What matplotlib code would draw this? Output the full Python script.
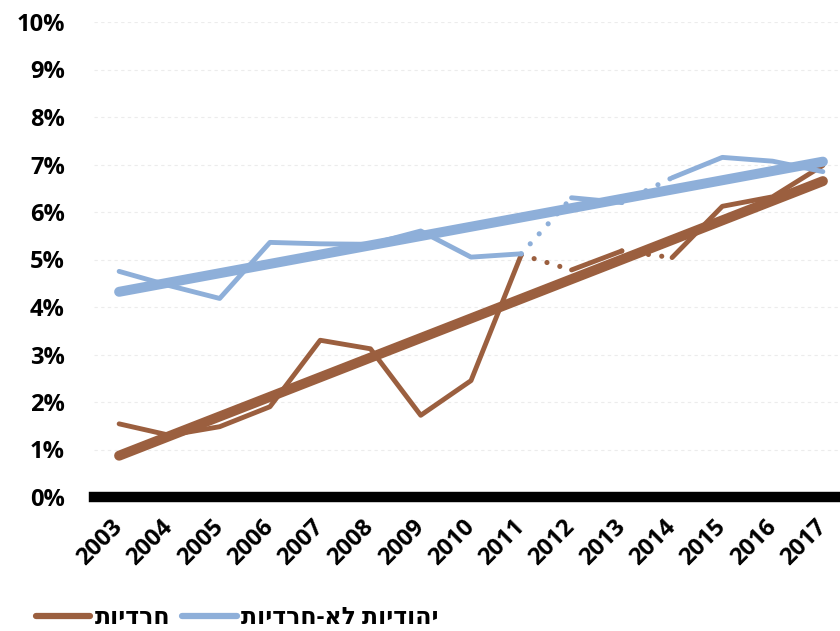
import matplotlib
matplotlib.use("Agg")
import matplotlib.pyplot as plt
from matplotlib.lines import Line2D

##*Data*##
years = [str(y) for y in range(2003, 2018)]
hared = [1.54, 1.30, 1.48, 1.90, 3.30, 3.12, 1.72, 2.45, 5.10, 4.78, 5.18, 5.04, 6.12, 6.32, 6.98]
non_hared = [4.75, 4.45, 4.18, 5.36, 5.33, 5.32, 5.60, 5.05, 5.12, 6.30, 6.20, 6.72, 7.15, 7.07, 6.85]
trend_hared = [0.87, 6.65]
trend_non_hared = [4.32, 7.06]
# solid parts of the series, dotted connectors between them
solid_parts = [(0, 8), (9, 10), (11, 14)]
dotted_parts = [(8, 9), (10, 11)]
label_hared = "חרדיות"
label_non_hared = "יהודיות לא-חרדיות"

brown = "#9B5F3F"
blue = "#8EAFD9"

plt.rcParams['font.family'] = ['Open Sans', 'DejaVu Sans']
plt.rcParams['font.weight'] = 'bold'

fig = plt.figure(figsize=(8.4, 6.31), dpi=100)
ax = fig.add_axes([94 / 840, 134 / 631, (848 - 94) / 840, 475 / 631])

x = list(range(len(years)))

def draw_series(vals, color):
    for a, b in solid_parts:
        ax.plot(x[a:b + 1], vals[a:b + 1], color=color, lw=3.5,
                solid_capstyle='round', solid_joinstyle='round', zorder=3)
    for a, b in dotted_parts:
        ax.plot(x[a:b + 1], vals[a:b + 1], color=color, lw=3.7,
                linestyle=(0, (0.01, 2.6)), dash_capstyle='round', zorder=3)

draw_series(hared, brown)
draw_series(non_hared, blue)

# linear trend lines
ax.plot([x[0], x[-1]], trend_hared, color=brown, lw=7.2, solid_capstyle='round', zorder=4)
ax.plot([x[0], x[-1]], trend_non_hared, color=blue, lw=7.2, solid_capstyle='round', zorder=4)

ax.set_xlim(-0.5, 14.5)
ax.set_ylim(0, 10)
for s in ax.spines.values():
    s.set_visible(False)
for v in range(1, 11):
    ax.axhline(v, color='#ececec', lw=0.8, ls=(0, (3, 3)), zorder=1)
ax.axhline(0, color='black', lw=7.5, clip_on=False, zorder=5)

ax.set_yticks(range(0, 11))
ax.set_yticklabels([f"{v}%" for v in range(0, 11)], fontsize=17, fontweight='bold')
ax.set_xticks(x)
ax.set_xticklabels(years, fontsize=17, fontweight='bold', rotation=45,
                   ha='right', va='center', rotation_mode='anchor')
ax.tick_params(axis='y', length=0, pad=21)
ax.tick_params(axis='x', length=0, pad=19)

handles = [Line2D([], [], color=brown, lw=4.5, solid_capstyle='round'),
           Line2D([], [], color=blue, lw=4.5, solid_capstyle='round')]
labels = [label_hared[::-1], label_non_hared[::-1]]
fig.legend(handles, labels, loc='center left', bbox_to_anchor=(24 / 840, 13 / 631), ncol=2,
           frameon=False, prop={'size': 17, 'weight': 'bold'}, borderpad=0,
           handlelength=2.3, handletextpad=0.2, columnspacing=0.5)

fig.savefig("out.png", dpi=100)
